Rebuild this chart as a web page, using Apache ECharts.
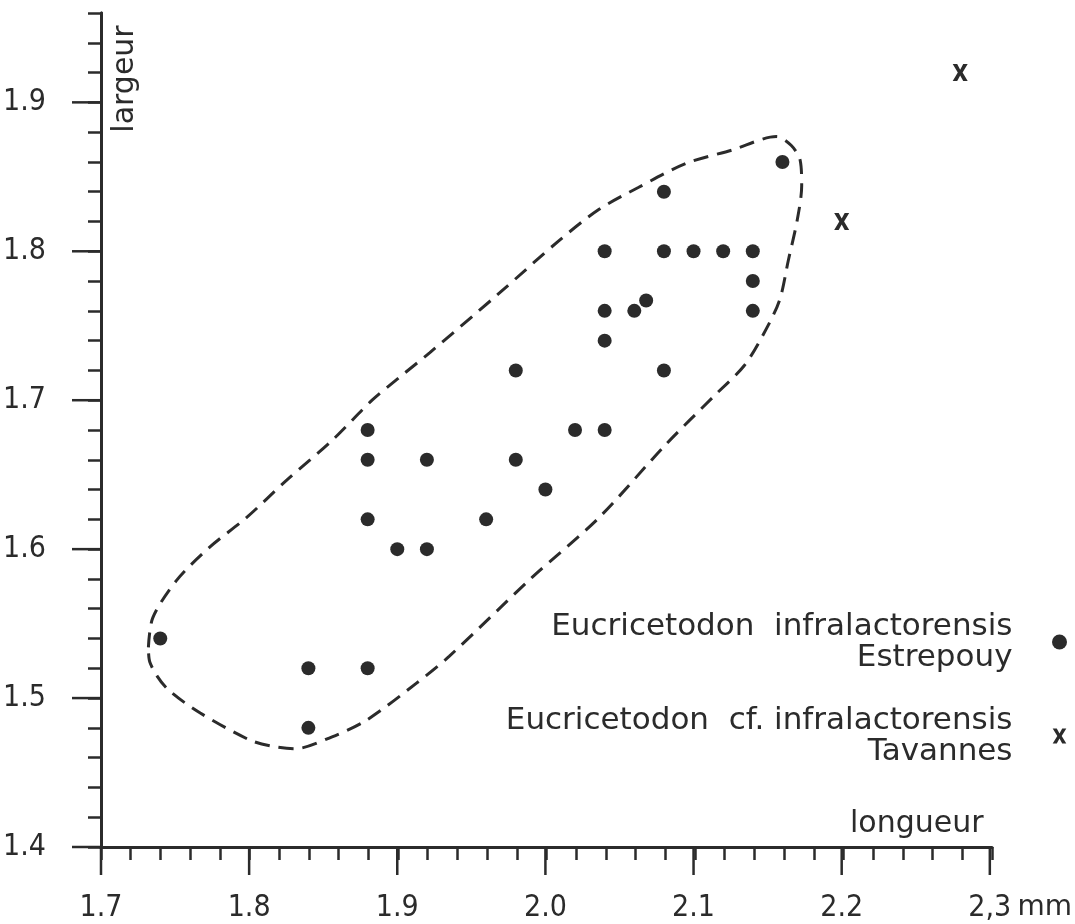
<!DOCTYPE html>
<html><head><meta charset="utf-8">
<script src="https://cdn.jsdelivr.net/npm/echarts@6/dist/echarts.min.js"></script>
<style>html,body{margin:0;padding:0;background:#fff}#c{width:1075px;height:924px}</style>
</head><body><div id="c"></div>
<script>
// Estrepouy (dots)
const estrepouyLength = [1.74,1.84,1.84,1.88,1.88,1.88,1.88,1.90,1.92,1.92,1.96,1.98,1.98,2.00,2.02,2.04,2.04,2.04,2.04,2.06,2.068,2.08,2.08,2.08,2.10,2.12,2.14,2.14,2.14,2.16];
const estrepouyWidth  = [1.54,1.52,1.48,1.52,1.62,1.66,1.68,1.60,1.60,1.66,1.62,1.66,1.72,1.64,1.68,1.68,1.74,1.76,1.80,1.76,1.767,1.72,1.80,1.84,1.80,1.80,1.80,1.78,1.76,1.86];
// Tavannes (crosses)
const tavannesLength = [2.20, 2.28];
const tavannesWidth  = [1.82, 1.92];
// dashed envelope around Estrepouy points
const envelopeLength = [1.732,1.735,1.751,1.773,1.798,1.825,1.856,1.883,1.901,1.922,1.969,2.009,2.036,2.063,2.095,2.126,2.156,2.166,2.172,2.173,2.170,2.164,2.158,2.147,2.134,2.114,2.081,2.036,1.991,1.935,1.913,1.879,1.856,1.831,1.814,1.800,1.767,1.744,1.733,1.732];
const envelopeWidth  = [1.534,1.554,1.579,1.601,1.621,1.646,1.673,1.700,1.715,1.732,1.772,1.807,1.828,1.843,1.859,1.868,1.877,1.871,1.861,1.844,1.821,1.794,1.767,1.744,1.723,1.703,1.670,1.621,1.581,1.528,1.510,1.485,1.474,1.466,1.468,1.472,1.490,1.507,1.524,1.534];
// tick labels
const xTickValues = [1.7,1.8,1.9,2.0,2.1,2.2,2.3];
const xTickLabels = ['1.7','1.8','1.9','2.0','2.1','2.2','2,3'];
const yTickValues = [1.4,1.5,1.6,1.7,1.8,1.9];
const yTickLabels = ['1.4','1.5','1.6','1.7','1.8','1.9'];
const seriesNames = ['Eucricetodon  infralactorensis\nEstrepouy', 'Eucricetodon  cf. infralactorensis\nTavannes'];
const xName = 'longueur', yName = 'largeur', unit = 'mm';

const INK = '#2b2b2b';
const NUMFONT = "'Liberation Sans Narrow','DejaVu Sans Condensed',sans-serif";
const TXTFONT = "'DejaVu Sans',sans-serif";
const findLabel = (vals, labels, v) => { const i = vals.findIndex(t => Math.abs(t - v) < 1e-6); return i < 0 ? '' : labels[i]; };

const chart = echarts.init(document.getElementById('c'), null, {renderer: 'canvas'});
const X_MIN = 1.7, X_MAX = 2.3, Y_MIN = 1.4, Y_MAX = 1.96;
const lineW = 3;
const MAJOR_X = 28, MAJOR_Y = 29, MINOR = 13;
const gridBox = {left: 101, right: 83, top: 13, bottom: 77, containLabel: false};
const baseAxis = (pos, gi) => ({
  type: 'value', gridIndex: gi, position: pos, offset: 0,
  min: pos === 'bottom' ? X_MIN : Y_MIN, max: pos === 'bottom' ? X_MAX : Y_MAX,
  splitLine: {show: false}, axisLine: {show: true, onZero: false, lineStyle: {color: INK, width: lineW}}
});
const tick = (len) => ({show: true, length: len, lineStyle: {color: INK, width: 2.5}});
chart.setOption({
  backgroundColor: '#ffffff',
  animation: false,
  grid: [Object.assign({}, gridBox), Object.assign({}, gridBox)],
  xAxis: [
    Object.assign(baseAxis('bottom', 0), {interval: 0.1, axisTick: {show: false},
      axisLabel: {show: true, margin: 46, color: INK, fontFamily: NUMFONT, fontSize: 30,
        formatter: v => { const s = findLabel(xTickValues, xTickLabels, v); return Math.abs(v - X_MAX) < 1e-6 ? '{p|}' + s + '{m| ' + unit + '}' : s; },
        rich: {p: {width: 58}, m: {width: 58, align: 'left', fontFamily: TXTFONT, fontSize: 28, color: INK}}}}),
    Object.assign(baseAxis('bottom', 1), {interval: 0.02, axisLabel: {show: false}, axisTick: tick(MINOR)})
  ],
  yAxis: [
    Object.assign(baseAxis('left', 0), {interval: 0.1, axisTick: {show: false},
      axisLabel: {show: true, margin: 55, color: INK, fontFamily: NUMFONT, fontSize: 30,
        formatter: v => findLabel(yTickValues, yTickLabels, v)}}),
    Object.assign(baseAxis('left', 1), {interval: 0.02, axisLabel: {show: false}, axisTick: tick(MINOR)})
  ],
  legend: {
    orient: 'vertical', right: 3, top: 606, align: 'right', itemGap: 32,
    itemWidth: 84, itemHeight: 15, selectedMode: false,
    textStyle: {color: INK, fontFamily: TXTFONT, fontSize: 31, lineHeight: 31, align: 'right'},
    data: seriesNames
  },
  series: [
    {type: 'line', name: 'envelope', xAxisIndex: 0, yAxisIndex: 0, silent: true, symbol: 'none', smooth: 0.3,
      data: envelopeLength.map((x, i) => [x, envelopeWidth[i]]),
      lineStyle: {color: INK, width: 3, type: [15, 9]}, z: 1},
    {type: 'scatter', name: seriesNames[0], xAxisIndex: 0, yAxisIndex: 0, symbol: 'circle', symbolSize: 14,
      data: estrepouyLength.map((x, i) => [x, estrepouyWidth[i]]),
      itemStyle: {color: INK, opacity: 1}, z: 3},
    {type: 'scatter', name: seriesNames[1], xAxisIndex: 0, yAxisIndex: 0,
      symbol: 'path://M0,0L30,0L50,36L70,0L100,0L66,55L100,110L70,110L50,74L30,110L0,110L34,55Z', symbolSize: [15, 17],
      data: tavannesLength.map((x, i) => [x, tavannesWidth[i]]),
      itemStyle: {color: INK, opacity: 1}, z: 3}
  ]
});
// axis names and long major ticks, placed through the chart's own scales
const px = (x, y) => chart.convertToPixel({xAxisIndex: 0, yAxisIndex: 0}, [x, y]);
const tickEls = [];
xTickValues.forEach(v => { const p = px(v, Y_MIN); tickEls.push({type: 'line', z: 100, silent: true,
  shape: {x1: p[0], y1: p[1], x2: p[0], y2: p[1] + MAJOR_X}, style: {stroke: INK, lineWidth: 2.5}}); });
yTickValues.forEach(v => { const p = px(X_MIN, v); tickEls.push({type: 'line', z: 100, silent: true,
  shape: {x1: p[0], y1: p[1], x2: p[0] - MAJOR_Y, y2: p[1]}, style: {stroke: INK, lineWidth: 2.5}}); });
const xn = px(X_MAX, Y_MIN), yn = px(X_MIN, Y_MAX);
chart.setOption({graphic: tickEls.concat([
  {type: 'text', x: xn[0] - 73, y: xn[1] - 23, z: 100, style: {text: xName, fill: INK, font: '30px ' + TXTFONT, textAlign: 'center', textVerticalAlign: 'middle'}},
  {type: 'text', x: yn[0] + 24, y: yn[1] + 66, z: 100, rotation: Math.PI / 2, style: {text: yName, fill: INK, font: '30px ' + TXTFONT, textAlign: 'center', textVerticalAlign: 'middle'}}
])});
</script></body></html>
